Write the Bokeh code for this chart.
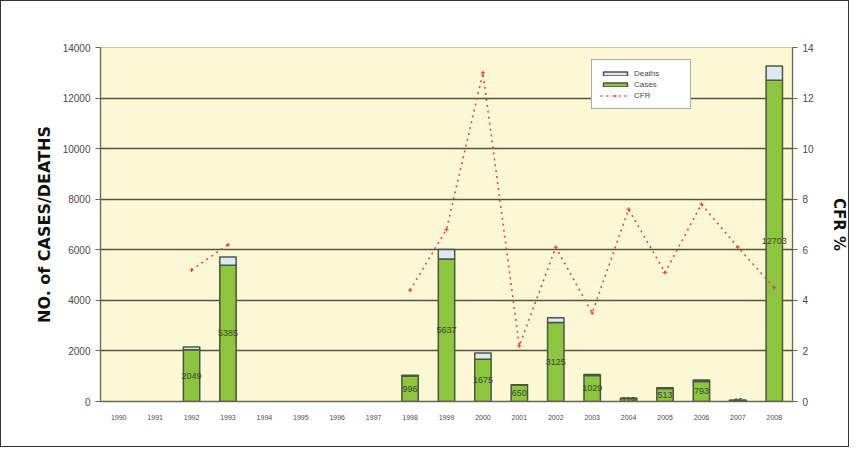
import math
from bokeh.plotting import figure
from bokeh.models import Range1d, LinearAxis, ColumnDataSource, Legend, LegendItem, FixedTicker
from bokeh.embed import file_html
from bokeh.resources import INLINE
from bokeh.core.properties import value

years = [str(y) for y in range(1990, 2009)]
cases = [0, 0, 2049, 5385, 0, 0, 0, 0, 996, 5637, 1675, 650, 3125, 1029, 119, 513, 793, 46, 12703]
deaths = [0, 0, 107, 330, 0, 0, 0, 0, 44, 370, 240, 14, 190, 36, 9, 26, 61, 3, 569]
cfr = [math.nan, math.nan, 5.2, 6.2, math.nan, math.nan, math.nan, math.nan,
       4.4, 6.8, 13.0, 2.2, 6.1, 3.5, 7.6, 5.1, 7.8, 6.1, 4.5]
left_ticks = [0, 2000, 4000, 6000, 8000, 10000, 12000, 14000]
right_ticks = [0, 2, 4, 6, 8, 10, 12, 14]

GREEN = "#8cc63e"
OUTLINE = "#4d5540"
DEATH = "#dde8f4"
RED = "#e2483d"
TXT = "#4a4a4a"

idx = [i for i, c in enumerate(cases) if c > 0]
bars = ColumnDataSource(dict(
    year=[years[i] for i in idx],
    cases=[cases[i] for i in idx],
    deaths=[deaths[i] for i in idx],
    mid=[cases[i] / 2 for i in idx],
    label=[str(cases[i]) for i in idx],
))

p = figure(width=849, height=447, x_range=years, y_range=Range1d(0, 14000),
           output_backend="svg", toolbar_location=None,
           min_border_left=99, min_border_right=50, min_border_top=46, min_border_bottom=47)
p.extra_y_ranges = {"cfr": Range1d(0, 14)}
p.background_fill_color = "#fcf8d6"
p.border_fill_color = "white"
p.outline_line_color = "#c8c6b0"
p.styles = {"border": "1px solid #333333"}

p.xgrid.grid_line_color = None
p.ygrid.grid_line_color = "#55553f"
p.ygrid.grid_line_width = 1.3
p.yaxis.ticker = FixedTicker(ticks=left_ticks)

rs = p.vbar_stack(["cases", "deaths"], x="year", width=0.45, source=bars,
                  fill_color=[GREEN, DEATH], line_color=OUTLINE, line_width=1.5)

p.text(x="year", y="mid", text="label", source=bars, text_align="center",
       text_baseline="middle", text_font=value("Liberation Sans"),
       text_font_size="9px", text_color="#3a4530")

line_src = ColumnDataSource(dict(year=years, cfr=cfr))
rl = p.line(x="year", y="cfr", source=line_src, y_range_name="cfr",
            line_color=RED, line_width=1.6, line_dash="2 4")
rm = p.scatter(x="year", y="cfr", source=line_src, y_range_name="cfr",
               marker="cross", size=4, line_color=RED, line_width=1.2)

right = LinearAxis(y_range_name="cfr", ticker=FixedTicker(ticks=right_ticks))
p.add_layout(right, "right")

for ax in [p.yaxis[0], right]:
    ax.axis_line_color = "#666655"
    ax.axis_line_width = 1.3
    ax.major_tick_line_color = "#666655"
    ax.major_tick_out = 5
    ax.major_tick_in = 0
    ax.minor_tick_line_color = None
    ax.major_label_text_font = "Liberation Sans"
    ax.major_label_text_font_size = "10px"
    ax.major_label_text_color = TXT
    ax.axis_label_text_font = "DejaVu Sans"
    ax.axis_label_text_font_style = "bold"
    ax.axis_label_text_color = "#111111"

p.yaxis[0].axis_label = "NO. of CASES/DEATHS"
p.yaxis[0].axis_label_text_font_size = "16px"
p.yaxis[0].axis_label_standoff = 6
p.yaxis[0].major_label_standoff = 5
right.axis_label = "CFR %"
right.axis_label_text_font_size = "15px"
right.axis_label_standoff = 13
right.major_label_standoff = 5

xa = p.xaxis[0]
xa.axis_line_color = "#666655"
xa.axis_line_width = 1.3
xa.major_tick_line_color = None
xa.major_label_text_font = "Liberation Sans"
xa.major_label_text_font_size = "7px"
xa.major_label_text_color = TXT
xa.major_label_standoff = 7

legend = Legend(items=[
    LegendItem(label="Deaths", renderers=[rs[1]]),
    LegendItem(label="Cases", renderers=[rs[0]]),
    LegendItem(label="CFR", renderers=[rl, rm]),
], location=(491, 292))
legend.border_line_color = "#555555"
legend.border_line_width = 1.2
legend.background_fill_color = "white"
legend.background_fill_alpha = 1
legend.label_text_font = "Liberation Sans"
legend.label_text_font_size = "8px"
legend.label_text_color = TXT
legend.glyph_width = 30
legend.glyph_height = 5
legend.label_height = 10
legend.label_width = 48
legend.label_standoff = 4
legend.padding = 8
legend.spacing = 1
legend.margin = 0
p.add_layout(legend, "center")

open("out.html", "w").write(file_html(p, INLINE))
